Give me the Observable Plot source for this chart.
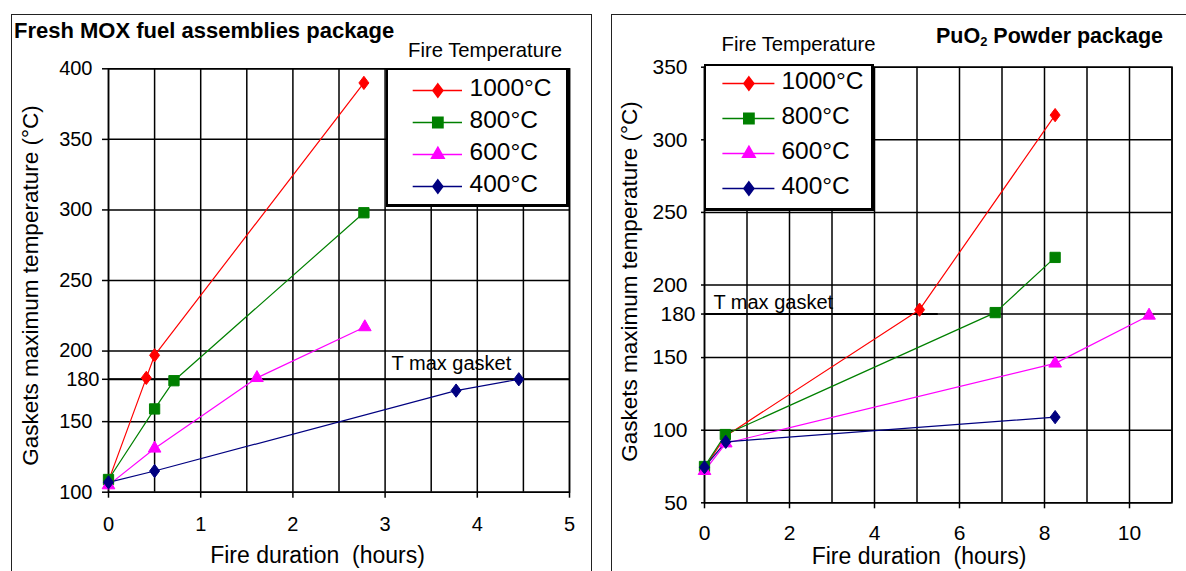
<!DOCTYPE html>
<html><head><meta charset="utf-8">
<script src="https://cdn.jsdelivr.net/npm/d3@7"></script>
<script src="https://cdn.jsdelivr.net/npm/@observablehq/plot@0.6"></script>
<style>
html,body{margin:0;padding:0;background:#fff;overflow:hidden;}
#root{position:relative;width:1186px;height:571px;overflow:hidden;font-family:"Liberation Sans",Arial,sans-serif;color:#000;}
.panel{position:absolute;border:1.5px solid #222;box-sizing:border-box;}
.abs{position:absolute;white-space:nowrap;line-height:1;}
.legbox{position:absolute;box-sizing:border-box;background:#fff;border:2px solid #000;border-right-width:3px;border-bottom-width:3px;}
svg{position:absolute;}
</style></head><body><div id="root"></div>
<script>
// ---------- data ----------
const seriesNames = ["1000°C", "800°C", "600°C", "400°C"];
const seriesColors = ["#ff0000", "#008000", "#ff00ff", "#000080"];

// Fresh MOX fuel assemblies package
const moxHours1000 = [0, 0.41, 0.5, 2.77];
const moxTemp1000  = [108, 181, 197, 390];
const moxHours800  = [0, 0.5, 0.71, 2.77];
const moxTemp800   = [109, 159, 179, 298];
const moxHours600  = [0, 0.5, 1.61, 2.78];
const moxTemp600   = [105, 131, 181, 217];
const moxHours400  = [0, 0.5, 3.77, 4.45];
const moxTemp400   = [107, 115, 172, 180];
const moxXTicks = [0, 1, 2, 3, 4, 5];
const moxXGrid  = [0, 0.5, 1, 1.5, 2, 2.5, 3, 3.5, 4, 4.5, 5];
const moxYTicks = [100, 150, 180, 200, 250, 300, 350, 400];

// PuO2 Powder package
const puoHours1000 = [0, 0.5, 5.06, 8.25];
const puoTemp1000  = [74, 96, 183, 317];
const puoHours800  = [0, 0.49, 6.84, 8.25];
const puoTemp800   = [75, 97, 181, 219];
const puoHours600  = [0, 0.5, 8.25, 10.46];
const puoTemp600   = [72, 91, 146, 179];
const puoHours400  = [0, 0.5, 8.25];
const puoTemp400   = [74.5, 92, 109];
const puoXTicks = [0, 2, 4, 6, 8, 10];
const puoXGrid  = [0, 1, 2, 3, 4, 5, 6, 7, 8, 9, 10, 11];
const puoYTicks = [50, 100, 150, 180, 200, 250, 300, 350];

const gasketLimit = 180;
const gasketLabel = "T max gasket";
const xTitle = "Fire duration  (hours)";
const yTitle = "Gaskets maximum temperature (°C)";
const legendTitle = "Fire Temperature";

// ---------- helpers ----------
const FONT = '"Liberation Sans", Arial, sans-serif';
const diamondSym = {draw(ctx, size) {
  const h = Math.sqrt(size / 1.5), w = 0.75 * h;
  ctx.moveTo(0, -h); ctx.lineTo(w, 0); ctx.lineTo(0, h); ctx.lineTo(-w, 0); ctx.closePath();
}};
const seriesSymbols = [diamondSym, "square", "triangle", diamondSym];
const seriesR = [4.6, 5.8, 4.7, 4.6];

function rows(hours, temps, name) { return hours.map((h, i) => ({hours: h, temp: temps[i], series: name})); }
const moxData = [
  ...rows(moxHours1000, moxTemp1000, seriesNames[0]),
  ...rows(moxHours800, moxTemp800, seriesNames[1]),
  ...rows(moxHours600, moxTemp600, seriesNames[2]),
  ...rows(moxHours400, moxTemp400, seriesNames[3])
];
const puoData = [
  ...rows(puoHours1000, puoTemp1000, seriesNames[0]),
  ...rows(puoHours800, puoTemp800, seriesNames[1]),
  ...rows(puoHours600, puoTemp600, seriesNames[2]),
  ...rows(puoHours400, puoTemp400, seriesNames[3])
];

function seriesMarks(data) {
  return [
    Plot.line(data, {x: "hours", y: "temp", z: "series", stroke: "series", strokeWidth: 1.2}),
    ...seriesNames.map((n, i) => Plot.dot(data, {filter: d => d.series === n, x: "hours", y: "temp",
      symbol: seriesSymbols[i], r: seriesR[i], fill: seriesColors[i], stroke: seriesColors[i], strokeWidth: 1}))
  ];
}

const root = document.getElementById("root");
function addDiv(cls, css, html) {
  const d = document.createElement("div"); d.className = cls; d.style.cssText = css; if (html) d.innerHTML = html; root.appendChild(d); return d;
}
function place(el, left, top, z) { el.style.left = left + "px"; el.style.top = top + "px"; el.style.zIndex = z; root.appendChild(el); }

// panel borders
addDiv("panel", "left:11px;top:14px;width:581px;height:600px;z-index:0;");
addDiv("panel", "left:611px;top:14px;width:600px;height:600px;z-index:0;");

// ---------- left chart ----------
const left = Plot.plot({
  width: 600, height: 571,
  marginLeft: 108, marginRight: 31, marginTop: 68.3, marginBottom: 79.3,
  style: {fontFamily: FONT, fontSize: "20px", color: "#000", background: "transparent", overflow: "visible"},
  x: {domain: [0, 5]},
  y: {domain: [100, 400]},
  color: {domain: seriesNames, range: seriesColors},
  marks: [
    Plot.ruleX(moxXGrid, {stroke: "#000", strokeWidth: 1.5}),
    Plot.ruleY(moxYTicks, {stroke: "#000", strokeWidth: 1.5}),
    Plot.ruleY([gasketLimit], {stroke: "#000", strokeWidth: 2}),
    Plot.frame({stroke: "#000", strokeWidth: 1.5}),
    Plot.axisX(moxXTicks, {tickSize: 6, tickPadding: 19, label: null, fontSize: 20, strokeWidth: 1.5}),
    Plot.axisY(moxYTicks.filter(v => v !== gasketLimit), {tickSize: 6, tickPadding: 10, label: null, fontSize: 20, strokeWidth: 1.5}),
    Plot.axisY([gasketLimit], {tickSize: 6, tickPadding: 3, label: null, fontSize: 20, strokeWidth: 1.5}),
    Plot.text([gasketLabel], {x: () => 3.07, y: () => gasketLimit, dy: -16, textAnchor: "start", fontSize: 20}),
    ...seriesMarks(moxData),
    Plot.text([xTitle], {frameAnchor: "bottom", textAnchor: "middle", lineAnchor: "middle", dx: -21.5, dy: 63.3, fontSize: 23}),
    Plot.text([yTitle], {frameAnchor: "left", textAnchor: "middle", lineAnchor: "middle", rotate: -90, dx: -77.4, dy: 5, fontSize: 22.5})
  ]
});
place(left, 0, 0, 1);

// ---------- right chart ----------
const right = Plot.plot({
  width: 586, height: 571,
  marginLeft: 104, marginRight: 14.5, marginTop: 66.7, marginBottom: 68.7,
  style: {fontFamily: FONT, fontSize: "21px", color: "#000", background: "transparent", overflow: "visible"},
  x: {domain: [0, 11]},
  y: {domain: [50, 350]},
  color: {domain: seriesNames, range: seriesColors},
  marks: [
    Plot.ruleX(puoXGrid, {stroke: "#000", strokeWidth: 1.5}),
    Plot.ruleY(puoYTicks, {stroke: "#000", strokeWidth: 1.5}),
    Plot.ruleY([gasketLimit], {x1: () => 0, x2: () => 5.5, stroke: "#000", strokeWidth: 2}),
    Plot.frame({stroke: "#000", strokeWidth: 1.5}),
    Plot.axisX(puoXTicks, {tickSize: 6, tickPadding: 16.7, label: null, fontSize: 21, strokeWidth: 1.5}),
    Plot.axisY(puoYTicks.filter(v => v !== gasketLimit), {tickSize: 3, tickPadding: 14, label: null, fontSize: 21, strokeWidth: 1.5}),
    Plot.axisY([gasketLimit], {tickSize: 3, tickPadding: 6, label: null, fontSize: 21, strokeWidth: 1.5}),
    Plot.text([gasketLabel], {x: () => 0.21, y: () => gasketLimit, dy: -11, textAnchor: "start", fontSize: 20}),
    ...seriesMarks(puoData),
    Plot.text([xTitle], {frameAnchor: "bottom", textAnchor: "middle", lineAnchor: "middle", dx: -19.2, dy: 53.7, fontSize: 23}),
    Plot.text([yTitle], {frameAnchor: "left", textAnchor: "middle", lineAnchor: "middle", rotate: -90, dx: -75, dy: -3.5, fontSize: 22.5})
  ]
});
place(right, 600, 0, 1);

// ---------- legends ----------
function legendPlot(w, h, xr, yr, labelDx) {
  return Plot.plot({
    width: w, height: h, margin: 0,
    style: {fontFamily: FONT, fontSize: "24px", color: "#000", background: "transparent", overflow: "visible"},
    x: {domain: [0, 1], range: xr, axis: null},
    y: {type: "point", domain: seriesNames, range: yr, padding: 0, axis: null},
    color: {domain: seriesNames, range: seriesColors},
    marks: [
      Plot.ruleY(seriesNames, {y: d => d, x1: () => 0, x2: () => 1, stroke: d => d, strokeWidth: 1.5}),
      ...seriesNames.map((n, i) => Plot.dot([n], {x: () => 0.5, y: d => d, symbol: seriesSymbols[i], r: seriesR[i],
        fill: seriesColors[i], stroke: seriesColors[i]})),
      Plot.text(seriesNames, {x: () => 1, y: d => d, dx: labelDx, dy: -2, textAnchor: "start", fontSize: 24.5})
    ]
  });
}
addDiv("legbox", "left:386px;top:68px;width:183px;height:139px;z-index:2;");
place(legendPlot(183, 139, [26.7, 76], [20.3, 118.7], 7), 386, 68, 3);
addDiv("legbox", "left:704px;top:64px;width:170px;height:147px;z-index:2;border-bottom-width:3px;");
place(legendPlot(170, 147, [18.4, 70.4], [19, 124], 6.5), 704, 64, 3);

// ---------- titles ----------
function textAt(html, left, baseline, fs, bold) {
  const top = baseline - 0.8465 * fs;
  addDiv("abs", `left:${left}px;top:${top}px;font-size:${fs}px;font-weight:${bold ? 700 : 400};z-index:4;`, html);
}
textAt("Fresh MOX fuel assemblies package", 14, 38.3, 22, true);
textAt("PuO<sub style='font-size:60%;vertical-align:-0.25em;line-height:0'>2</sub> Powder package", 936, 44, 21.5, true);
textAt(legendTitle, 408, 56.7, 20.3, false);
textAt(legendTitle, 721.5, 50.7, 20.3, false);
</script></body></html>
